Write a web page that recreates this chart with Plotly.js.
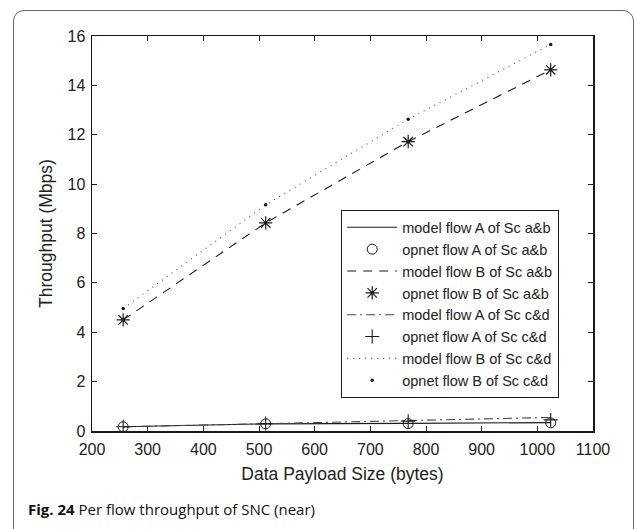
<!DOCTYPE html>
<html>
<head>
<meta charset="utf-8">
<script src="https://cdn.plot.ly/plotly-3.0.1.min.js"></script>
<style>
  html, body { margin: 0; padding: 0; background: #fff; }
  #wrap { position: relative; width: 637px; height: 529px; overflow: hidden; }
  #frame { position: absolute; left: 13px; top: 10px; width: 621px; height: 560px;
           border: 1px solid #666; border-radius: 11px; box-sizing: border-box; }
  #chart { position: absolute; left: 0; top: 0; width: 637px; height: 529px; }
</style>
</head>
<body>
<div id="wrap">
  <div id="frame"></div>
  <div id="chart"></div>
</div>
<script>
// Data payload sizes (bytes)
const payload = [256, 512, 768, 1024];

// Throughput (Mbps) per flow
const modelA_ab = [0.17, 0.29, 0.31, 0.34];
const opnetA_ab = [0.17, 0.29, 0.30, 0.33];
const modelB_ab = [4.50, 8.43, 11.72, 14.63];
const opnetB_ab = [4.50, 8.43, 11.72, 14.63];
const modelA_cd = [0.17, 0.30, 0.43, 0.55];
const opnetA_cd = [0.17, 0.30, 0.40, 0.45];
const modelB_cd = [4.96, 9.16, 12.63, 15.66];
const opnetB_cd = [4.96, 9.16, 12.63, 15.66];

const seriesNames = [
  'model flow A of Sc a&b', 'opnet flow A of Sc a&b',
  'model flow B of Sc a&b', 'opnet flow B of Sc a&b',
  'model flow A of Sc c&d', 'opnet flow A of Sc c&d',
  'model flow B of Sc c&d', 'opnet flow B of Sc c&d'
];

const xTicks = [200, 300, 400, 500, 600, 700, 800, 900, 1000, 1100];
const yTicks = [0, 2, 4, 6, 8, 10, 12, 14, 16];

const ink = '#1a1a1a';
const sans = 'Liberation Sans, Arial, sans-serif';

function lineTrace(y, name, dash, color, width) {
  return { x: payload, y: y, name: name, mode: 'lines', type: 'scatter',
           line: { color: color, width: width, dash: dash } };
}
function markTrace(y, name, symbol, size, width) {
  return { x: payload, y: y, name: name, mode: 'markers', type: 'scatter',
           marker: { symbol: symbol, size: size, color: ink,
                     line: { color: ink, width: width } } };
}

const traces = [
  lineTrace(modelA_ab, seriesNames[0], 'solid', ink, 1.1),
  markTrace(opnetA_ab, seriesNames[1], 'circle-open', 10, 1),
  lineTrace(modelB_ab, seriesNames[2], '9px,7px', ink, 1.1),
  markTrace(opnetB_ab, seriesNames[3], 'asterisk-open', 11, 1.2),
  lineTrace(modelA_cd, seriesNames[4], '9px,4px,2px,4px', '#444', 1.1),
  markTrace(opnetA_cd, seriesNames[5], 'cross-thin-open', 10, 1.1),
  lineTrace(modelB_cd, seriesNames[6], '1px,5px', '#555', 1.1),
  markTrace(opnetB_cd, seriesNames[7], 'circle', 3.5, 0)
];

const axisCommon = {
  showline: true, linecolor: ink, linewidth: 1.5, mirror: 'allticks',
  ticks: 'inside', ticklen: 5, tickcolor: ink, tickwidth: 1,
  showgrid: false, zeroline: false,
  tickfont: { family: sans, size: 16, color: '#222' }
};

const layout = {
  width: 637, height: 529,
  paper_bgcolor: 'rgba(0,0,0,0)', plot_bgcolor: 'rgba(0,0,0,0)',
  margin: { l: 92, r: 44, t: 36, b: 98 },
  showlegend: true,
  xaxis: Object.assign({}, axisCommon, {
    range: [200, 1100], tickvals: xTicks, ticktext: xTicks.map(String),
    ticklabelstandoff: 3,
    title: { text: 'Data Payload Size (bytes)', standoff: 11,
             font: { family: sans, size: 17.5, color: '#222' } }
  }),
  yaxis: Object.assign({}, axisCommon, {
    range: [0, 16], tickvals: yTicks, ticktext: yTicks.map(String),
    ticklabelstandoff: 2,
    title: { text: 'Throughput (Mbps)', standoff: 10,
             font: { family: sans, size: 17.5, color: '#222' } }
  }),
  legend: {
    x: 0.497, y: 0.559, xanchor: 'left', yanchor: 'top',
    bgcolor: '#fff', bordercolor: ink, borderwidth: 1.2,
    itemwidth: 50, tracegroupgap: 0,
    font: { family: sans, size: 14.5, color: '#222' }
  },
  annotations: [{
    xref: 'paper', yref: 'paper', x: -0.132, y: -0.197, xanchor: 'left', yanchor: 'middle',
    showarrow: false, align: 'left',
    text: '<b>Fig. 24</b> Per flow throughput of SNC (near)',
    font: { family: 'Open Sans, Noto Sans, sans-serif', size: 15, color: '#111' }
  }]
};

Plotly.newPlot('chart', traces, layout, { displayModeBar: false, staticPlot: true });
</script>
</body>
</html>
